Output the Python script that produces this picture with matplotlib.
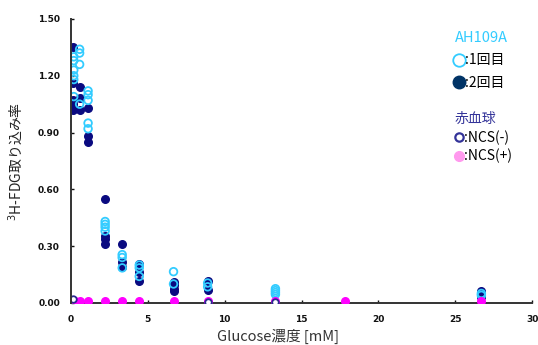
import matplotlib
matplotlib.use('Agg')
import matplotlib.pyplot as plt
from matplotlib.lines import Line2D

plt.rcParams['font.family'] = ['Noto Sans CJK JP', 'DejaVu Sans']

# AH109A 1回目 (open, light blue)
run1_x = [0.18, 0.18, 0.18, 0.18, 0.18, 0.18,
          0.56, 0.56, 0.56, 0.56,
          1.11, 1.11, 1.11, 1.11, 1.11,
          2.22, 2.22, 2.22, 2.22,
          3.33, 3.33, 3.33,
          4.44, 4.44, 4.44,
          6.67, 6.67,
          8.89, 8.89,
          13.3, 13.3, 13.3, 13.3,
          26.7, 26.7]
run1_y = [1.30, 1.28, 1.23, 1.20, 1.18, 1.09,
          1.34, 1.32, 1.26, 1.05,
          1.12, 1.10, 1.07, 0.95, 0.92,
          0.43, 0.415, 0.40, 0.38,
          0.255, 0.24, 0.185,
          0.20, 0.185, 0.14,
          0.165, 0.10,
          0.105, 0.085,
          0.075, 0.065, 0.055, 0.045,
          0.05, 0.04]

# AH109A 2回目 (filled, navy)
run2_x = [0.14, 0.14, 0.14, 0.14, 0.14, 0.14,
          0.56, 0.56, 0.56,
          1.11, 1.11, 1.11,
          2.22, 2.22, 2.22, 2.22,
          3.33, 3.33, 3.33,
          4.44, 4.44, 4.44,
          6.67, 6.67, 6.67, 6.67,
          8.89, 8.89,
          26.7, 26.7]
run2_y = [1.35, 1.16, 1.07, 1.05, 1.03, 1.02,
          1.14, 1.08, 1.02,
          1.03, 0.88, 0.85,
          0.55, 0.355, 0.34, 0.31,
          0.31, 0.215, 0.19,
          0.205, 0.165, 0.115,
          0.11, 0.095, 0.075, 0.065,
          0.115, 0.07,
          0.065, 0.03]

# 赤血球 NCS(-) / NCS(+)
ncs_minus_x = [0.14, 8.89, 13.3]
ncs_minus_y = [0.02, 0.005, 0.005]
ncs_plus_x = [0.14, 0.28, 0.56, 1.11, 2.22, 3.33, 4.44, 6.67, 8.89, 13.3, 17.8, 26.7]
ncs_plus_y = [0.008, 0.008, 0.008, 0.008, 0.008, 0.008, 0.008, 0.008, 0.008, 0.008, 0.008, 0.008]

y_ticks = [0.0, 0.3, 0.6, 0.9, 1.2, 1.5]
y_ticklabels = ['0.00', '0.30', '0.60', '0.90', '1.20', '1.50']
x_ticks = [0, 5, 10, 15, 20, 25, 30]

c_light = '#33ccff'
c_navy = '#0a0a80'

fig = plt.figure(figsize=(5.38, 3.45), dpi=100)
ax = fig.add_axes([0.132, 0.122, 0.857, 0.823])

ax.scatter(run2_x, run2_y, s=30, color=c_navy, zorder=3)
ax.scatter(run1_x, run1_y, s=30, facecolor='none', edgecolor=c_light, linewidth=1.3, zorder=4)
ax.scatter(ncs_plus_x, ncs_plus_y, s=30, color='#ff00ff', zorder=5)
ax.scatter(ncs_minus_x, ncs_minus_y, s=22, facecolor='white', edgecolor='#2a2a90', linewidth=1.3, zorder=6)

ax.set_xlim(0, 30)
ax.set_ylim(0, 1.5)
ax.set_xticks(x_ticks)
ax.set_yticks(y_ticks)
ax.set_yticklabels(y_ticklabels)
ax.tick_params(direction='in', length=2, width=1, labelsize=6.5, colors='#111111')
ax.tick_params(axis='y', pad=8)
ax.tick_params(axis='x', pad=9)
for lab in ax.get_xticklabels() + ax.get_yticklabels():
    lab.set_family('DejaVu Sans')
    lab.set_fontweight('bold')
for s in ['top', 'right']:
    ax.spines[s].set_visible(False)
for s in ['left', 'bottom']:
    ax.spines[s].set_linewidth(1.4)
    ax.spines[s].set_color('#333333')
ax.spines['left'].set_zorder(7)

ax.set_xlabel('Glucose濃度 [mM]', fontsize=10.5, color='#333333')
ax.xaxis.set_label_coords(0.45, -0.09)
ax.set_ylabel('$^3$H-FDG取り込み率', fontsize=10, color='#222222', labelpad=9)

# 凡例
h1 = [Line2D([], [], ls='none', marker='o', ms=9, mfc='white', mec=c_light, mew=1.3),
      Line2D([], [], ls='none', marker='o', ms=9, color='#003366')]
leg1 = fig.legend(h1, [':1回目', ':2回目'], loc='upper left', bbox_to_anchor=(0.845, 0.91),
                  frameon=False, fontsize=10, title='AH109A', title_fontsize=10.5,
                  alignment='left', handlelength=0.7, handletextpad=0.05,
                  labelspacing=0.6, borderpad=0, borderaxespad=0)
leg1.get_title().set_color(c_light)

h2 = [Line2D([], [], ls='none', marker='o', ms=6, mfc='white', mec='#333399', mew=1.6),
      Line2D([], [], ls='none', marker='o', ms=7, color='#ff99ee')]
leg2 = fig.legend(h2, [':NCS(-)', ':NCS(+)'], loc='upper left', bbox_to_anchor=(0.845, 0.675),
                  frameon=False, fontsize=10, title='赤血球', title_fontsize=10,
                  alignment='left', handlelength=0.6, handletextpad=0.05,
                  labelspacing=0.3, borderpad=0, borderaxespad=0)
leg2.get_title().set_color('#333399')

fig.savefig('out.png', dpi=100)
